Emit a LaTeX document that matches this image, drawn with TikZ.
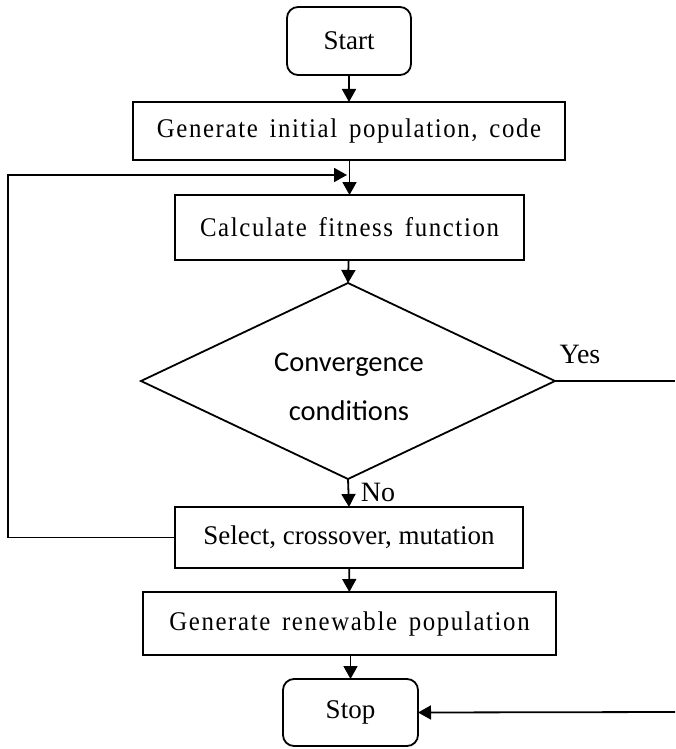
\documentclass[tikz,border=0pt]{standalone}
\usepackage{fontspec}
\setmainfont{Liberation Serif}
\newfontfamily\calfont{Carlito}
\newfontfamily\widefont[FakeStretch=0.92,LetterSpace=6,WordSpace=1.5]{Liberation Serif}
\usetikzlibrary{shapes.geometric,arrows.meta}
\begin{document}
\begin{tikzpicture}[x=1pt,y=-1pt,
  every node/.style={inner sep=0pt,outer sep=0pt},
  flow/.style={line width=1.8pt,-{Triangle[length=13pt,width=14pt]}},
  wire/.style={line width=1.8pt},
  procbox/.style={draw,line width=1.8pt,rectangle,font=\fontsize{27}{30}\selectfont},
  widebox/.style={procbox,font=\widefont\fontsize{27}{30}\selectfont},
  termbox/.style={procbox,rounded corners=11pt},
  decide/.style={draw,line width=1.8pt,diamond,aspect=2.112,minimum width=414pt,minimum height=196pt},
  decidetext/.style={align=center,font=\calfont\fontsize{28.5}{49}\selectfont},
  tag/.style={font=\fontsize{28}{30}\selectfont}]
\useasboundingbox (0,0) rectangle (675,749);
% boxes of the flow chart, top to bottom
\node[termbox,minimum width=124pt,minimum height=68pt] (start) at (349,41) {Start};
\node[widebox,minimum width=432pt,minimum height=58pt] (gen) at (349,131) {Generate initial population, code};
\node[widebox,minimum width=349pt,minimum height=65pt] (calc) at (349.5,227.5) {Calculate fitness function};
\node[decide] (cond) at (348,381) {};
\node[decidetext] (condtext) at (349,387) {Convergence\\conditions};
\node[procbox,minimum width=348pt,minimum height=61pt] (sel) at (349,537.5) {Select, crossover, mutation};
\node[widebox,minimum width=413pt,minimum height=63pt] (ren) at (349.5,623.5) {Generate renewable population};
\node[termbox,minimum width=135pt,minimum height=67pt] (stop) at (350.5,712.5) {Stop};
% free ends of the loop and of the open lines on the right
\coordinate (loopL) at (8,175);
\coordinate (loopE) at (347,175);
\coordinate (yesEnd) at (675,381);
\coordinate (stopIn) at (675,712);
\node[tag] (yes) at (580,354) {Yes};
\node[tag] (no) at (378,492) {No};
% connectors
\draw[flow] (start) -- (gen);
\draw[flow] (gen.south -| calc.north) -- (calc.north);
\draw[flow] (calc) -- (cond.north);
\draw[flow] (cond.south) -- (sel.north);
\draw[flow] (sel) -- (ren);
\draw[flow] (ren.south -| stop.north) -- (stop.north);
\draw[flow] (sel.west) -| (loopL) -- (loopE);
\draw[wire] (cond.east) -- (cond.east -| yesEnd);
\draw[flow] (stopIn) -- (stop.east);
\end{tikzpicture}
\end{document}
